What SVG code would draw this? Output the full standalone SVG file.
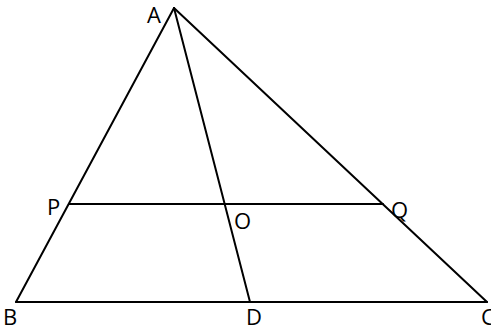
<svg xmlns="http://www.w3.org/2000/svg" width="491" height="333" viewBox="0 0 491 333">
<style>
.l{stroke:#000;stroke-width:2;fill:none;stroke-linecap:round}
.t{font-family:"Open Sans","Noto Sans","Liberation Sans",sans-serif;font-size:22px;fill:#000}
</style>
<rect width="491" height="333" fill="#fff"/>
<g id="connectors">
<line class="l" x1="174" y1="8" x2="16" y2="302"/>
<line class="l" x1="174" y1="8" x2="487" y2="302"/>
<line class="l" x1="174" y1="8" x2="250" y2="302"/>
<line class="l" x1="16" y1="302" x2="487" y2="302"/>
<line class="l" x1="69" y1="204" x2="383" y2="204"/>
</g>
<g id="A"><text class="t" x="147" y="23">A</text></g>
<g id="B"><text class="t" x="3" y="325">B</text></g>
<g id="C"><text class="t" x="481" y="325">C</text></g>
<g id="D"><text class="t" x="246" y="325">D</text></g>
<g id="P"><text class="t" x="47" y="215">P</text></g>
<g id="Q"><text class="t" x="391" y="218">Q</text></g>
<g id="O"><text class="t" x="234" y="229">O</text></g>
</svg>
